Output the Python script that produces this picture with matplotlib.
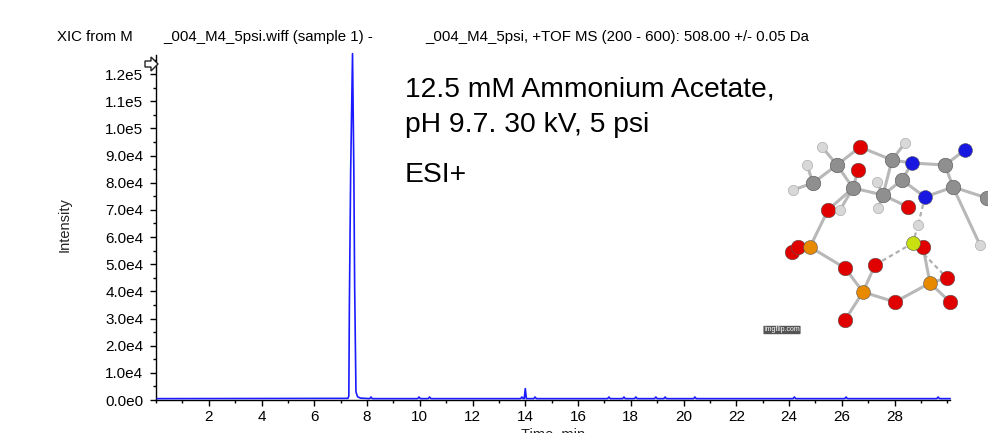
import matplotlib
matplotlib.use("Agg")
import matplotlib.pyplot as plt
from matplotlib.patches import Polygon
from matplotlib.ticker import MultipleLocator, FixedLocator

plt.rcParams['font.family'] = ['Liberation Sans', 'DejaVu Sans']

# ---- chromatogram trace (time in min, intensity in counts) ----
times = [0.05, 7.28, 7.31, 7.33, 7.38, 7.45, 7.50, 7.53, 7.58, 7.64, 7.75,
         8.10, 8.15, 8.20, 9.92, 9.97, 10.02, 10.32, 10.37, 10.42,
         13.82, 13.87, 13.92, 13.96, 14.00, 14.04, 14.32, 14.37, 14.42,
         17.12, 17.17, 17.22, 17.69, 17.74, 17.79, 18.14, 18.19, 18.24,
         18.90, 18.95, 19.00, 19.25, 19.30, 19.35, 20.38, 20.43, 20.48,
         24.15, 24.20, 24.25, 26.11, 26.16, 26.21, 29.60, 29.65, 29.70, 30.10]
intensity = [500, 600, 1500, 33800, 84500, 127500, 84500, 42500, 3000, 1200, 700,
             500, 1100, 500, 500, 1100, 500, 500, 1100, 500,
             500, 1100, 500, 500, 4200, 500, 500, 1100, 500,
             500, 1100, 500, 500, 1100, 500, 500, 1100, 500,
             500, 1100, 500, 500, 1100, 500, 500, 1100, 500,
             500, 1100, 500, 500, 1100, 500, 500, 1100, 500, 500]

x_ticks = [2, 4, 6, 8, 10, 12, 14, 16, 18, 20, 22, 24, 26, 28]
y_ticks = [0, 10000, 20000, 30000, 40000, 50000, 60000, 70000, 80000,
           90000, 100000, 110000, 120000]
y_tick_labels = ["0.0e0", "1.0e4", "2.0e4", "3.0e4", "4.0e4", "5.0e4", "6.0e4",
                 "7.0e4", "8.0e4", "9.0e4", "1.0e5", "1.1e5", "1.2e5"]

# ---- molecule illustration (pixel positions in the picture) ----
atom_x = [860, 858, 828, 908, 792, 798, 845, 875, 923, 947, 950, 895, 845,
          837, 813, 853, 892, 902, 883, 945, 953, 987,
          912, 925, 965,
          810, 863, 930,
          913,
          822, 807, 793, 905, 877, 878, 918, 840, 980]
atom_y = [147, 170, 210, 207, 252, 247, 268, 265, 247, 278, 302, 302, 320,
          165, 183, 188, 160, 180, 195, 165, 187, 198,
          163, 197, 150,
          247, 292, 283,
          243,
          147, 165, 190, 143, 182, 208, 225, 210, 245]
atom_el = ['O'] * 13 + ['C'] * 9 + ['N'] * 3 + ['P'] * 3 + ['Mg'] + ['H'] * 9
bonds = [(13, 0), (0, 16), (13, 14), (13, 15), (15, 1), (15, 18), (18, 16),
         (16, 22), (22, 17), (17, 18), (22, 19), (19, 24), (19, 20), (20, 23),
         (23, 17), (20, 21), (15, 2), (2, 25), (25, 4), (25, 5), (25, 6),
         (6, 26), (26, 7), (26, 12), (26, 11), (11, 27), (27, 9), (27, 10),
         (27, 8), (18, 3), (13, 29), (14, 30), (14, 31), (16, 32), (18, 33),
         (18, 34), (15, 36), (20, 37)]
dashed_bonds = [(23, 35), (35, 28), (28, 7), (28, 9), (28, 8)]
el_color = {'O': '#e00000', 'C': '#8f8f8f', 'N': '#1818e0', 'P': '#e88a00',
            'Mg': '#c8e010', 'H': '#d8d8d8'}
el_size = {'O': 110, 'C': 110, 'N': 100, 'P': 100, 'Mg': 100, 'H': 55}

# outline arrow icon at the top of the y axis (pixel coords)
icon_x = [145, 151, 151, 158, 151, 151, 145]
icon_y = [61, 61, 57, 64, 71, 67, 67]

W, H = 988, 433
fig = plt.figure(figsize=(W / 100, H / 100), dpi=100)
ax = fig.add_axes([156 / W, 1 - 400 / H, (950 - 156) / W, (400 - 55) / H])

ax.plot(times, intensity, color='#1a1aff', lw=1.2, zorder=3, clip_on=False)
ax.set_xlim(0, 30.1)
ax.set_ylim(0, 127000)

for s in ['top', 'right']:
    ax.spines[s].set_visible(False)
for s in ['left', 'bottom']:
    ax.spines[s].set_color('black')
    ax.spines[s].set_linewidth(1.0)

ax.xaxis.set_major_locator(FixedLocator(x_ticks))
ax.xaxis.set_minor_locator(MultipleLocator(1))
ax.set_yticks(y_ticks)
ax.set_yticklabels(y_tick_labels)
ax.yaxis.set_minor_locator(MultipleLocator(5000))
ax.tick_params(axis='both', which='major', length=4, width=1, labelsize=11,
               colors='black', direction='out')
ax.tick_params(axis='both', which='minor', length=2.5, width=1, direction='out')
ax.tick_params(axis='x', pad=3)
ax.tick_params(axis='y', pad=5)

fig.text(65 / W, 1 - 225 / H, "Intensity", rotation=90, ha='center', va='center',
         fontsize=10.5, color='#222222')
fig.text(553 / W, 1 - 428 / H, "Time, min", ha='center', va='top',
         fontsize=10.5, color='#222222')

# header line
fig.text(57 / W, 1 - 37 / H, "XIC from M", ha='left', va='center', fontsize=10.8)
fig.text(163 / W, 1 - 37 / H, "_004_M4_5psi.wiff (sample 1) -", ha='left',
         va='center', fontsize=10.8)
fig.text(425 / W, 1 - 37 / H, "_004_M4_5psi, +TOF MS (200 - 600): 508.00 +/- 0.05 Da",
         ha='left', va='center', fontsize=10.8)

# arrow icon at axis top
fig.patches.append(Polygon([(x / W, 1 - y / H) for x, y in zip(icon_x, icon_y)],
                           closed=True, fc='white', ec='#222222', lw=1.0,
                           transform=fig.transFigure, figure=fig, zorder=5))

# annotation
fig.text(405 / W, 1 - 97 / H, "12.5 mM Ammonium Acetate,", ha='left',
         va='baseline', fontsize=20.3)
fig.text(405 / W, 1 - 132 / H, "pH 9.7. 30 kV, 5 psi", ha='left',
         va='baseline', fontsize=20.3)
fig.text(405 / W, 1 - 182 / H, "ESI+", ha='left', va='baseline', fontsize=20.3)

# molecule inset
mol = fig.add_axes([770 / W, 1 - 345 / H, (988 - 770) / W, (345 - 95) / H])
mol.set_xlim(770, 988)
mol.set_ylim(345, 95)
mol.axis('off')
for a, b in bonds:
    mol.plot([atom_x[a], atom_x[b]], [atom_y[a], atom_y[b]], color='#b8b8b8',
             lw=2.2, zorder=1, solid_capstyle='round')
for a, b in dashed_bonds:
    mol.plot([atom_x[a], atom_x[b]], [atom_y[a], atom_y[b]], color='#b0b0b0',
             lw=1.6, ls=(0, (2, 1.5)), zorder=1)
for xa, ya, el in zip(atom_x, atom_y, atom_el):
    mol.scatter([xa], [ya], s=el_size[el], color=el_color[el],
                edgecolors='#555555' if el != 'H' else '#a0a0a0',
                linewidths=0.4, zorder=2)
mol.text(782, 330, "imgflip.com", fontsize=5, color='white', ha='center',
         va='center', bbox=dict(boxstyle='round,pad=0.1', fc='#555555', ec='none'))

fig.savefig("out.png", dpi=100)
